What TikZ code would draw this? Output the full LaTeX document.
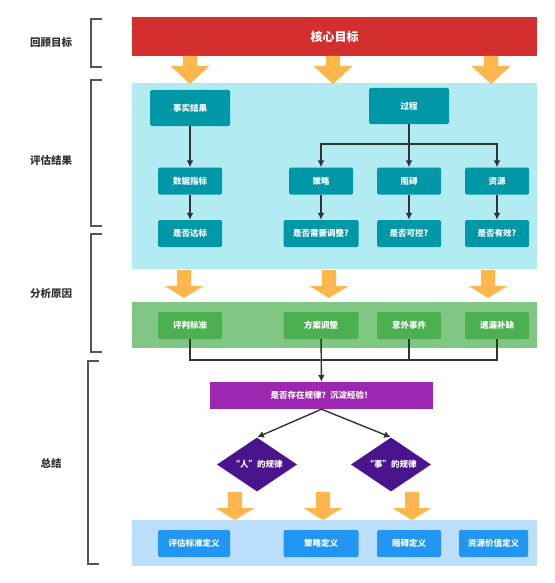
\documentclass[tikz,border=0pt]{standalone}
\usepackage{fontspec}
\setmainfont{Noto Sans CJK SC}
\usetikzlibrary{positioning, shapes, arrows.meta}
\definecolor{rougecible}{HTML}{D32F2F}
\definecolor{orangefleche}{HTML}{FFB74D}
\definecolor{cyanclair}{HTML}{B2EBF2}
\definecolor{sarcelle}{HTML}{0097A7}
\definecolor{vertclair}{HTML}{81C784}
\definecolor{vert}{HTML}{4CAF50}
\definecolor{violet}{HTML}{9C27B0}
\definecolor{violetfonce}{HTML}{4A148C}
\definecolor{bleuclair}{HTML}{BBDEFB}
\definecolor{bleu}{HTML}{2196F3}
\definecolor{gristrait}{HTML}{555555}
\definecolor{fleche}{HTML}{333333}
\tikzstyle{panneau}=[rectangle, inner sep=0pt, minimum width=405pt]
\tikzstyle{boite}=[rectangle, rounded corners=1.5pt, inner sep=0pt, text=white, font=\bfseries\fontsize{8.5}{10}\selectfont, minimum width=64pt, minimum height=27pt]
\tikzstyle{etape}=[boite, fill=sarcelle]
\tikzstyle{cause}=[boite, fill=vert]
\tikzstyle{bilan}=[boite, fill=bleu]
\tikzstyle{losange}=[diamond, aspect=1.48, inner sep=0pt, fill=violetfonce, text=white, font=\bfseries\fontsize{8.5}{10}\selectfont, minimum width=80pt, minimum height=54pt]
\tikzstyle{phase}=[font=\bfseries\fontsize{10.5}{12}\selectfont, text=fleche]
\tikzstyle{crochet}=[gristrait, line width=1.3pt]
\tikzstyle{lien}=[fleche, line width=1.4pt]
\newcommand{\grossefleche}[4]{% x, haut, debut de la pointe, bout
  \fill[orangefleche] (#1-7,#2) -- (#1-7,#3) -- (#1-19.5,#3) -- (#1,#4) -- (#1+19.5,#3) -- (#1+7,#3) -- (#1+7,#2) -- cycle;}

\begin{document}
\begin{tikzpicture}[x=1pt, y=-1pt, >={Latex[length=7pt,width=7pt]}]
  \useasboundingbox (0,0) rectangle (554,583);

  % Bandeaux
  \node[panneau, fill=rougecible, minimum height=39pt, text=white, font=\bfseries\fontsize{12}{14}\selectfont] (objectif) at (334.5,36.5) {核心目标};
  \node[panneau, fill=cyanclair, minimum height=186pt] (evaluation) at (334.5,176) {};
  \node[panneau, fill=vertclair, minimum height=46pt] (analyse) at (334.5,325) {};
  \node[panneau, fill=bleuclair, minimum height=46pt] (synthese) at (334.5,543) {};

  % Grosses fleches
  \foreach \x in {190,333,491} {\grossefleche{\x}{56}{66}{84}}
  \foreach \x in {184,329,488} {\grossefleche{\x}{270}{286}{298}}
  \foreach \x in {235,323,412} {\grossefleche{\x}{492}{508}{520}}

  % Evaluer les resultats
  \node[etape, minimum width=80pt, minimum height=36pt] (faits) at (190,108) {事实结果};
  \node[etape, minimum width=80pt, minimum height=36pt] (processus) at (409,106) {过程};
  \node[etape] (indicateurs) at (190,181) {数据指标};
  \node[etape] (atteint) at (190,233.5) {是否达标};
  \node[etape] (strategie) at (321,181) {策略};
  \node[etape] (obstacle) at (409,181) {阻碍};
  \node[etape] (ressources) at (497,181) {资源};
  \node[etape, minimum width=75pt] (ajuster) at (321,233.5) {是否需要调整?};
  \node[etape] (controle) at (409,233.5) {是否可控?};
  \node[etape] (efficace) at (497,233.5) {是否有效?};
  \coordinate (branche) at (409,144);
  \draw[lien, ->] (faits) -- (indicateurs);
  \draw[lien, ->] (indicateurs) -- (atteint);
  \draw[lien] (processus) -- (branche);
  \draw[lien, ->] (branche) -| (strategie);
  \draw[lien, ->] (branche) -- (obstacle);
  \draw[lien, ->] (branche) -| (ressources);
  \draw[lien, ->] (strategie) -- (ajuster);
  \draw[lien, ->] (obstacle) -- (controle);
  \draw[lien, ->] (ressources) -- (efficace);

  % Analyser les causes
  \node[cause] (critere) at (190,325.5) {评判标准};
  \node[cause, minimum width=75pt] (plan) at (321,325.5) {方案调整};
  \node[cause] (imprevu) at (409,325.5) {意外事件};
  \node[cause] (oubli) at (497,325.5) {遗漏补缺};
  \node[rectangle, fill=violet, text=white, font=\bfseries\fontsize{8.5}{10}\selectfont, minimum width=223pt, minimum height=27pt, inner sep=0pt] (regle) at (321.5,395.5) {是否存在规律？沉淀经验！};
  \coordinate (jonction) at (321,360);
  \draw[lien] (critere) |- (jonction);
  \draw[lien] (imprevu) |- (jonction);
  \draw[lien] (oubli) |- (jonction);
  \draw[lien, ->] (plan) -- (regle);

  % Conclure
  \node[losange] (loihomme) at (257,464.5) {“人”的规律};
  \node[losange] (loichose) at (391,464.5) {“事”的规律};
  \draw[lien, ->] (regle.south) -- (loihomme.north);
  \draw[lien, ->] (regle.south) -- (loichose.north);
  \node[bilan, minimum width=72pt] (defcritere) at (194,543.5) {评估标准定义};
  \node[bilan, minimum width=75pt] (defstrategie) at (321,543.5) {策略定义};
  \node[bilan] (defobstacle) at (409,543.5) {阻碍定义};
  \node[bilan, minimum width=69pt] (defressource) at (493.5,543.5) {资源价值定义};

  % Phases
  \draw[crochet] (102,19) -- (91,19) -- (91,67) -- (102,67);
  \draw[crochet] (102,80) -- (91,80) -- (91,226) -- (102,226);
  \draw[crochet] (102,234) -- (91,234) -- (91,352) -- (102,352);
  \draw[crochet] (99,361) -- (88,361) -- (88,564) -- (99,564);
  \node[phase] (revoir) at (51,43) {回顾目标};
  \node[phase] (evaluer) at (51,160) {评估结果};
  \node[phase] (analyser) at (51,294) {分析原因};
  \node[phase] (conclure) at (51,463) {总结};
\end{tikzpicture}
\end{document}
